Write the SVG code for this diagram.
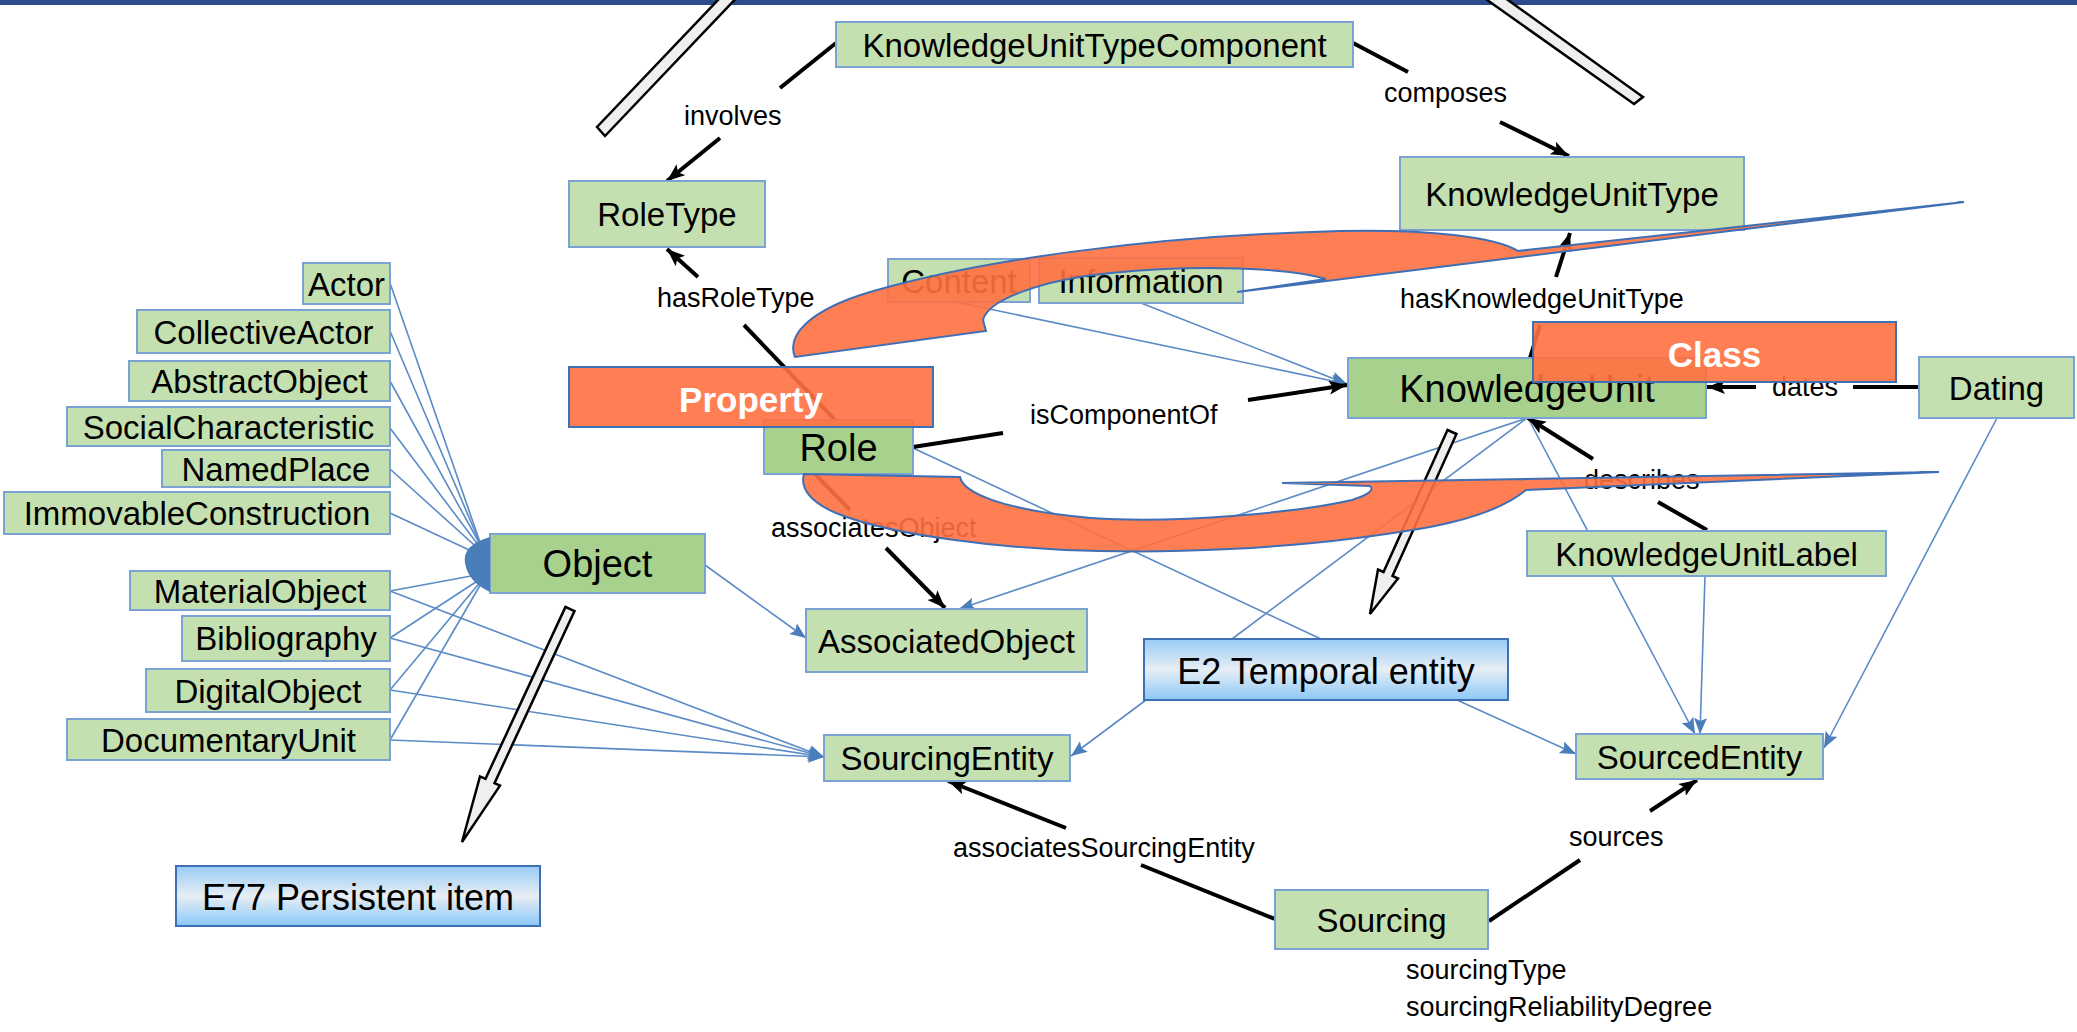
<svg xmlns="http://www.w3.org/2000/svg" width="2077" height="1032" viewBox="0 0 2077 1032">
<defs>
<style>
.n{fill:#c5e0b0;stroke:#7aa3d3;stroke-width:2}
.d{fill:#a8d18d;stroke:#7aa3d3;stroke-width:2}
.b{fill:url(#blueg);stroke:#3f6fb5;stroke-width:2}
.o{fill:#ff7040;fill-opacity:0.9;stroke:#3f6fb5;stroke-width:2}
.t{font-family:"Liberation Sans",Arial,sans-serif;font-size:33px;fill:#000;text-anchor:middle}
.tb{font-family:"Liberation Sans",Arial,sans-serif;font-size:38px;fill:#000;text-anchor:middle}
.te{font-family:"Liberation Sans",Arial,sans-serif;font-size:36px;fill:#000;text-anchor:middle}
.tw{font-family:"Liberation Sans",Arial,sans-serif;font-size:35px;font-weight:bold;fill:#fff;text-anchor:middle}
.l{font-family:"Liberation Sans",Arial,sans-serif;font-size:27px;fill:#000}
.k{stroke:#000;stroke-width:4;fill:none}
.ka{stroke:#000;stroke-width:4;fill:none;marker-end:url(#ah)}
.u{stroke:#5b8bc6;stroke-width:1.6;fill:none}
.ua{stroke:#5b8bc6;stroke-width:1.6;fill:none;marker-end:url(#bh)}
.blk{fill:#efefef;stroke:#000;stroke-width:2.5;stroke-linejoin:miter}
</style>
<linearGradient id="blueg" x1="0" y1="0" x2="0" y2="1">
<stop offset="0" stop-color="#97cbf6"/>
<stop offset="0.5" stop-color="#e8eef4"/>
<stop offset="1" stop-color="#8ac8f8"/>
</linearGradient>
<marker id="ah" markerUnits="userSpaceOnUse" markerWidth="20" markerHeight="16" refX="18" refY="7" orient="auto">
<path d="M0,0 L18,7 L0,14 L4,7 Z" fill="#000"/>
</marker>
<marker id="bh" markerUnits="userSpaceOnUse" markerWidth="18" markerHeight="14" refX="16" refY="6.5" orient="auto">
<path d="M0,0 L16,6.5 L0,13 L3,6.5 Z" fill="#4a7ebb"/>
</marker>
</defs>
<rect x="0" y="0" width="2077" height="1032" fill="#fff"/>
<rect x="0" y="0" width="2077" height="5" fill="#2e4b8f"/>

<g id="connectors">
<line class="u" x1="390" y1="283" x2="482" y2="548"/>
<line class="u" x1="390" y1="331" x2="482" y2="548"/>
<line class="u" x1="390" y1="381" x2="482" y2="548"/>
<line class="u" x1="390" y1="428" x2="482" y2="550"/>
<line class="u" x1="390" y1="469" x2="482" y2="552"/>
<line class="u" x1="390" y1="513" x2="482" y2="556"/>
<line class="u" x1="390" y1="591" x2="482" y2="574"/>
<line class="u" x1="390" y1="638" x2="482" y2="578"/>
<line class="u" x1="390" y1="690" x2="482" y2="580"/>
<line class="u" x1="390" y1="740" x2="482" y2="582"/>
<line class="ua" x1="390" y1="591" x2="824" y2="757"/>
<line class="ua" x1="390" y1="638" x2="824" y2="757"/>
<line class="ua" x1="390" y1="690" x2="824" y2="757"/>
<line class="ua" x1="390" y1="740" x2="824" y2="757"/>
<line class="ua" x1="705" y1="565" x2="806" y2="638"/>
<line class="ua" x1="1527" y1="418" x2="959" y2="609"/>
<line class="u" x1="1527" y1="418" x2="1232" y2="639"/>
<line class="u" x1="913" y1="448" x2="1321" y2="639"/>
<line class="ua" x1="956" y1="302" x2="1347" y2="384"/>
<line class="ua" x1="1141" y1="303" x2="1347" y2="384"/>
<line class="ua" x1="1146" y1="700" x2="1071" y2="756"/>
<line class="ua" x1="1457" y1="700" x2="1576" y2="754"/>
<line class="ua" x1="1528" y1="418" x2="1695" y2="734"/>
<line class="ua" x1="1705" y1="576" x2="1700" y2="734"/>
<line class="ua" x1="1997" y1="418" x2="1824" y2="748"/>
<line class="k" x1="836" y1="43" x2="780" y2="88"/>
<line class="ka" x1="720" y1="138" x2="667" y2="181"/>
<line class="k" x1="1353" y1="43" x2="1408" y2="72"/>
<line class="ka" x1="1500" y1="122" x2="1569" y2="156"/>
<line class="ka" x1="698" y1="277" x2="667" y2="249"/>
<line class="k" x1="744" y1="325" x2="835" y2="420"/>
<line class="ka" x1="1556" y1="277" x2="1570" y2="233"/>
<line class="k" x1="1540" y1="325" x2="1530" y2="358"/>
<line class="k" x1="913" y1="447" x2="1003" y2="433"/>
<line class="ka" x1="1248" y1="400" x2="1347" y2="385"/>
<line class="k" x1="1918" y1="387" x2="1853" y2="387"/>
<line class="ka" x1="1756" y1="387" x2="1707" y2="387"/>
<line class="k" x1="1707" y1="530" x2="1658" y2="502"/>
<line class="ka" x1="1593" y1="459" x2="1528" y2="418"/>
<line class="k" x1="815" y1="474" x2="850" y2="510"/>
<line class="ka" x1="886" y1="548" x2="945" y2="608"/>
<line class="k" x1="1275" y1="919" x2="1141" y2="865"/>
<line class="ka" x1="1066" y1="828" x2="948" y2="781"/>
<line class="k" x1="1489" y1="921" x2="1580" y2="860"/>
<line class="ka" x1="1650" y1="811" x2="1697" y2="780"/>
<text class="l" x="684" y="125">involves</text>
<text class="l" x="1384" y="102">composes</text>
<text class="l" x="657" y="307">hasRoleType</text>
<text class="l" x="1400" y="308">hasKnowledgeUnitType</text>
<text class="l" x="1030" y="424">isComponentOf</text>
<text class="l" x="1772" y="396">dates</text>
<text class="l" x="1584" y="489">describes</text>
<text class="l" x="771" y="537">associatesObject</text>
<text class="l" x="953" y="857">associatesSourcingEntity</text>
<text class="l" x="1569" y="846">sources</text>
</g>

<g id="Actor"><rect class="n" x="303" y="263" width="87" height="41"/><text class="t" x="346.5" y="295.5">Actor</text></g>
<g id="CollectiveActor"><rect class="n" x="137" y="310" width="253" height="43"/><text class="t" x="263.5" y="343.5">CollectiveActor</text></g>
<g id="AbstractObject"><rect class="n" x="129" y="361" width="261" height="40"/><text class="t" x="259.5" y="393">AbstractObject</text></g>
<g id="SocialCharacteristic"><rect class="n" x="67" y="407" width="323" height="39"/><text class="t" x="228.5" y="438.5">SocialCharacteristic</text></g>
<g id="NamedPlace"><rect class="n" x="162" y="450" width="228" height="37"/><text class="t" x="276" y="480.5">NamedPlace</text></g>
<g id="ImmovableConstruction"><rect class="n" x="4" y="492" width="386" height="42"/><text class="t" x="197" y="525">ImmovableConstruction</text></g>
<g id="MaterialObject"><rect class="n" x="130" y="571" width="260" height="39"/><text class="t" x="260" y="602.5">MaterialObject</text></g>
<g id="Bibliography"><rect class="n" x="182" y="616" width="208" height="45"/><text class="t" x="286" y="650">Bibliography</text></g>
<g id="DigitalObject"><rect class="n" x="146" y="669" width="244" height="43"/><text class="t" x="268" y="702.5">DigitalObject</text></g>
<g id="DocumentaryUnit"><rect class="n" x="67" y="719" width="323" height="41"/><text class="t" x="228.5" y="751.5">DocumentaryUnit</text></g>
<g id="Object"><rect class="d" x="490" y="534" width="215" height="59"/><text class="tb" x="597.5" y="577">Object</text>
<path d="M490,537 Q462,545 465,563 Q468,582 490,592 Z" fill="#4a7ebb"/></g>
<g id="KnowledgeUnitTypeComponent"><rect class="n" x="836" y="22" width="517" height="45"/><text class="t" x="1094.5" y="56.5">KnowledgeUnitTypeComponent</text></g>
<g id="RoleType"><rect class="n" x="569" y="181" width="196" height="66"/><text class="t" x="667" y="226">RoleType</text></g>
<g id="KnowledgeUnitType"><rect class="n" x="1400" y="157" width="344" height="73"/><text class="t" x="1572" y="205.5">KnowledgeUnitType</text></g>
<g id="Content"><rect class="n" x="888" y="259" width="142" height="43"/><text class="t" x="959" y="292.5">Content</text></g>
<g id="Information"><rect class="n" x="1039" y="258" width="204" height="45"/><text class="t" x="1141" y="292.5">Information</text></g>
<g id="KnowledgeUnit"><rect class="d" x="1348" y="358" width="358" height="60"/><text class="tb" x="1527" y="401.5">KnowledgeUnit</text></g>
<g id="Dating"><rect class="n" x="1919" y="357" width="155" height="61"/><text class="t" x="1996.5" y="399.5">Dating</text></g>
<g id="Role"><rect class="d" x="764" y="420" width="149" height="54"/><text class="tb" x="838.5" y="460.5">Role</text></g>
<g id="KnowledgeUnitLabel"><rect class="n" x="1527" y="531" width="359" height="45"/><text class="t" x="1706.5" y="565.5">KnowledgeUnitLabel</text></g>
<g id="AssociatedObject"><rect class="n" x="806" y="609" width="281" height="63"/><text class="t" x="946.5" y="652.5">AssociatedObject</text></g>
<g id="E2"><rect class="b" x="1144" y="639" width="364" height="61"/><text class="te" x="1326" y="684">E2 Temporal entity</text></g>
<g id="SourcingEntity"><rect class="n" x="824" y="735" width="246" height="46"/><text class="t" x="947" y="770">SourcingEntity</text></g>
<g id="SourcedEntity"><rect class="n" x="1576" y="734" width="247" height="45"/><text class="t" x="1699.5" y="768.5">SourcedEntity</text></g>
<g id="Sourcing"><rect class="n" x="1275" y="890" width="213" height="59"/><text class="t" x="1381.5" y="931.5">Sourcing</text>
<text class="l" x="1406" y="979">sourcingType</text>
<text class="l" x="1406" y="1016">sourcingReliabilityDegree</text></g>
<g id="E77"><rect class="b" x="176" y="866" width="364" height="60"/><text class="te" x="358" y="910">E77 Persistent item</text></g>

<g id="blockarrows">
<polygon class="blk" points="597,127 605,136 744,-10 727.5,-10"/>
<polygon class="blk" points="1634,104 1643,97 1494,-10 1473,-10"/>
<polygon class="blk" points="565.5,606.9 485.5,778.9 480,776.4 462,842 500,785.6 494.5,783.1 574.5,611.1"/>
<polygon class="blk" points="1447.5,430 1383.5,572 1378,569.5 1370,614 1398,578.5 1392.5,576 1456.5,434"/>
</g>

<g id="overlays">
<g id="Property"><rect class="o" x="569" y="367" width="364" height="60"/><text class="tw" x="751" y="412">Property</text></g>
<g id="Class"><rect class="o" x="1533" y="322" width="363" height="60"/><text class="tw" x="1714.5" y="367">Class</text></g>
<path class="o" d="M795,357 C786,335 810,310 870,292 C980,260 1150,236 1340,231 C1430,229 1495,237 1518,251 L1964,202 L1237,292 L1326,279 C1290,268 1200,264 1111,273 C1040,280 988,300 983,320 L986,331 Z"/>
<path class="o" d="M804,474 L960,477 C963,492 1000,510 1091,518 C1180,524 1300,512 1352,500 C1368,495 1375,490 1370,486 L1282,483 L1939,472 L1526,490 C1490,520 1420,530 1357,538 C1280,548 1180,553 1100,551 C1000,549 890,535 836,513 C810,502 800,488 804,474 Z"/>
</g>
</svg>
